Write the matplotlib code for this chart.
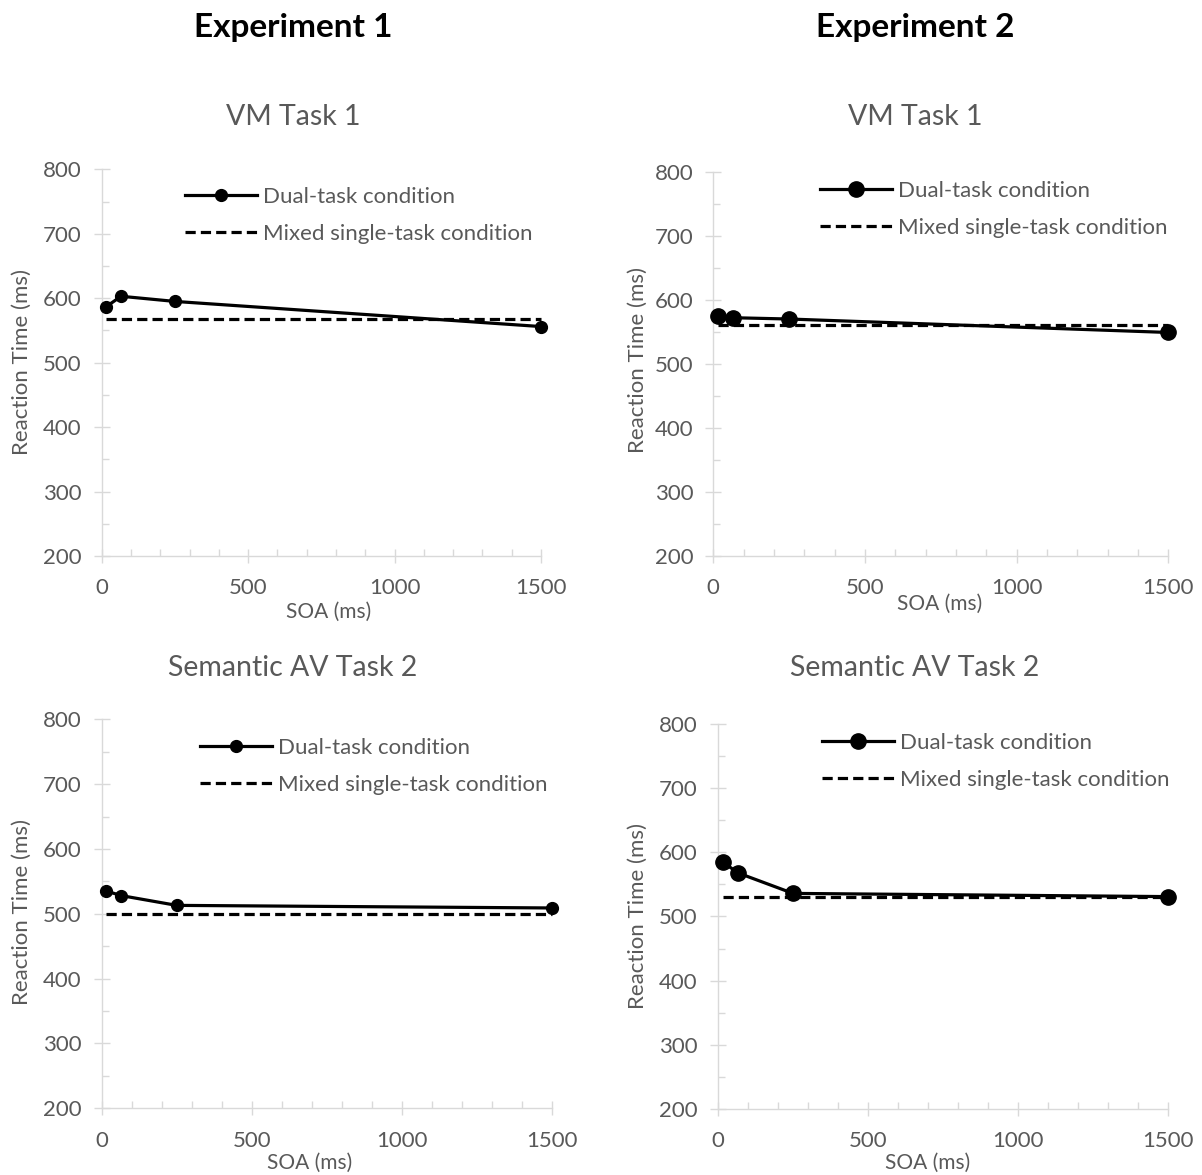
import matplotlib
matplotlib.use("Agg")
import matplotlib.pyplot as plt
from matplotlib.ticker import MultipleLocator

plt.rcParams['font.family'] = ['Lato', 'DejaVu Sans']

# ---- data ----
soa = [16, 66, 250, 1500]
exp1_vm_dual = [587, 603, 595, 556]
exp1_vm_mixed = 568
exp2_vm_dual = [574, 572, 570, 549]
exp2_vm_mixed = 561
exp1_av_dual = [535, 528, 513, 509]
exp1_av_mixed = 500
exp2_av_dual = [585, 568, 536, 531]
exp2_av_mixed = 531

experiment_titles = ["Experiment 1", "Experiment 2"]
panel_titles = ["VM Task 1", "Semantic AV Task 2"]
legend_labels = ["Dual-task condition", "Mixed single-task condition"]
x_label = "SOA (ms)"
y_label = "Reaction Time (ms)"

W, H = 1202, 1175
fig = plt.figure(figsize=(W / 100, H / 100), dpi=100)

GRAY = "#595959"
AXC = "#d9d9d9"

def fx(px):
    return px / W

def fy(py):
    return 1 - py / H

panels = [
    dict(rect=(101.7, 541, 169.3, 556), dual=exp1_vm_dual, mixed=exp1_vm_mixed, ms=8.5,
         leg=(185, 187), xl=(329, 612), yl=(22, 362)),
    dict(rect=(713.3, 1168.3, 171.7, 556), dual=exp2_vm_dual, mixed=exp2_vm_mixed, ms=11,
         leg=(820, 181), xl=(940, 604), yl=(638, 360)),
    dict(rect=(101.7, 551.5, 719.3, 1108.3), dual=exp1_av_dual, mixed=exp1_av_mixed, ms=8.5,
         leg=(200, 738), xl=(310, 1163), yl=(22, 912)),
    dict(rect=(718, 1168.3, 724, 1109), dual=exp2_av_dual, mixed=exp2_av_mixed, ms=11,
         leg=(822, 733), xl=(928, 1163), yl=(638, 916)),
]

for p in panels:
    x0, x1, yt, yb = p["rect"]
    ax = fig.add_axes([fx(x0), fy(yb), fx(x1 - x0), (yb - yt) / H])
    ax.plot(soa, p["dual"], color="black", lw=2.3, marker="o", ms=p["ms"],
            label=legend_labels[0], solid_joinstyle="round", zorder=3, clip_on=False)
    ax.plot([soa[0], soa[-1]], [p["mixed"], p["mixed"]], color="black", lw=2.3,
            ls=(0, (3.2, 1.6)), label=legend_labels[1], zorder=2, clip_on=False)
    ax.set_xlim(0, 1500)
    ax.set_ylim(200, 800)
    for s in ("top", "right"):
        ax.spines[s].set_visible(False)
    for s in ("left", "bottom"):
        ax.spines[s].set_color(AXC)
        ax.spines[s].set_linewidth(1.0)
    ax.xaxis.set_major_locator(MultipleLocator(500))
    ax.xaxis.set_minor_locator(MultipleLocator(100))
    ax.yaxis.set_major_locator(MultipleLocator(100))
    ax.yaxis.set_minor_locator(MultipleLocator(50))
    ax.tick_params(axis="x", which="major", direction="inout", length=10, width=1,
                   color=AXC, labelcolor=GRAY, labelsize=16, pad=11)
    ax.tick_params(axis="x", which="minor", direction="in", length=5, width=1, color=AXC)
    ax.tick_params(axis="y", which="major", direction="inout", length=11, width=1,
                   color=AXC, labelcolor=GRAY, labelsize=16, pad=9)
    ax.tick_params(axis="y", which="minor", direction="in", length=5, width=1, color=AXC)
    ax.set_xlabel(x_label, color=GRAY, fontsize=15)
    ax.xaxis.set_label_coords(fx(p["xl"][0]), fy(p["xl"][1]), transform=fig.transFigure)
    ax.xaxis.label.set_va("center")
    ax.set_ylabel(y_label, color=GRAY, fontsize=16)
    ax.yaxis.set_label_coords(fx(p["yl"][0]), fy(p["yl"][1]), transform=fig.transFigure)
    ax.yaxis.label.set_va("center")
    leg = ax.legend(loc="upper left", bbox_to_anchor=(fx(p["leg"][0]), fy(p["leg"][1])),
                    bbox_transform=fig.transFigure, frameon=False, fontsize=16,
                    handlelength=3.24, handletextpad=0.27, labelspacing=0.75,
                    borderpad=0, borderaxespad=0)
    for t in leg.get_texts():
        t.set_color(GRAY)

for cx, title in zip((293, 915), experiment_titles):
    fig.text(fx(cx), fy(27), title, ha="center", va="center",
             fontsize=24, fontweight="bold", color="black")
for cx in (293, 915):
    fig.text(fx(cx), fy(117), panel_titles[0], ha="center", va="center",
             fontsize=20.5, color=GRAY)
    fig.text(fx(cx), fy(668), panel_titles[1], ha="center", va="center",
             fontsize=20.5, color=GRAY)

fig.savefig("out.png", dpi=100, facecolor="white")
